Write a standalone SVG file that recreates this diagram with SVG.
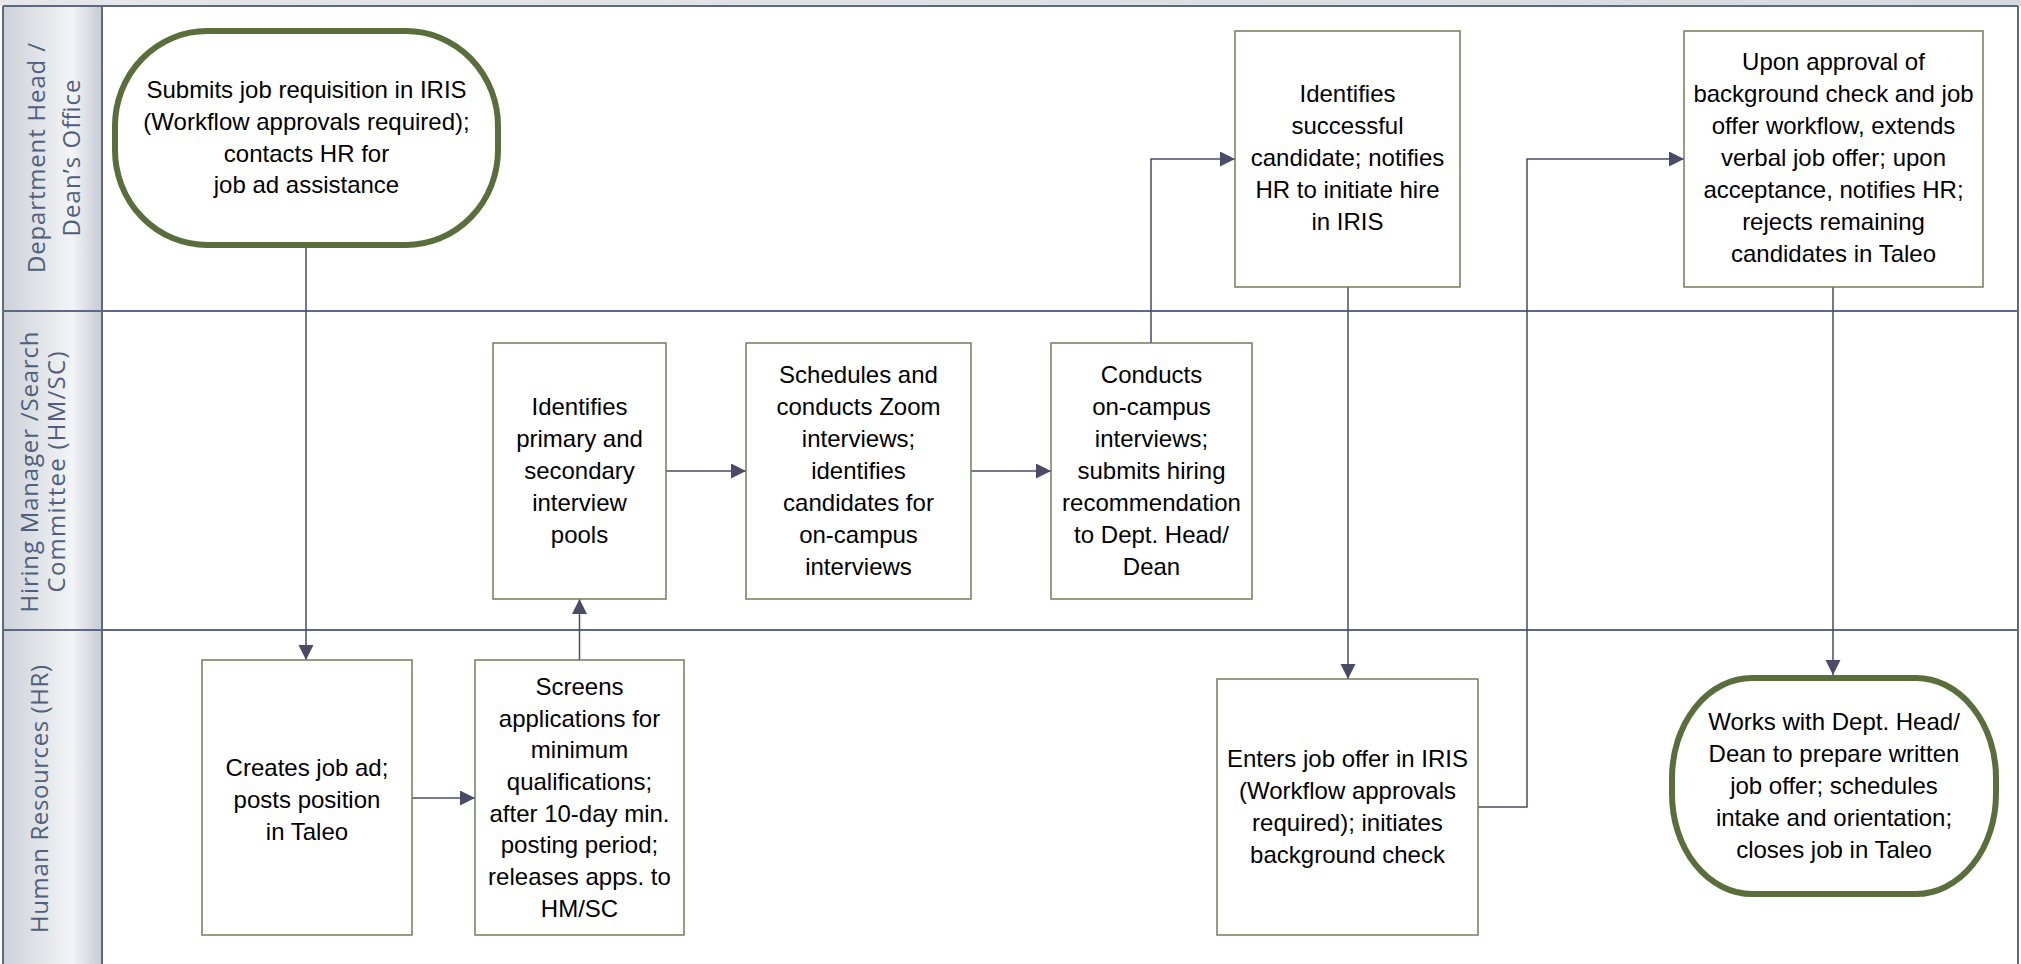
<svg xmlns="http://www.w3.org/2000/svg" width="2021" height="964" viewBox="0 0 2021 964">
<defs>
<linearGradient id="hdr" x1="0" y1="0" x2="1" y2="0">
<stop offset="0" stop-color="#cdd1d8"/>
<stop offset="0.7" stop-color="#f3f4f6"/>
<stop offset="1" stop-color="#c6cad2"/>
</linearGradient>
<linearGradient id="top" x1="0" y1="0" x2="1" y2="0">
<stop offset="0" stop-color="#e4e6ea"/>
<stop offset="1" stop-color="#d6dae0"/>
</linearGradient>
<marker id="arr" markerUnits="userSpaceOnUse" markerWidth="16" markerHeight="16" refX="15" refY="7.5" orient="auto">
<path d="M0,0 L15,7.5 L0,15 z" fill="#4b4a67"/>
</marker>
</defs>
<style>
.lane{fill:none;stroke:#5b6a84;stroke-width:2}
.lbl{font-family:"Open Sans","DejaVu Sans",sans-serif;font-size:24px;fill:#4f5f7d}
.box{fill:#fff;stroke:#6f7f55;stroke-width:1.5}
.term{fill:#fff;stroke:#5a6e3c;stroke-width:6}
.t{font-family:"Liberation Sans",Arial,sans-serif;font-size:24px;fill:#000;text-anchor:middle}
.c{fill:none;stroke:#4b4a67;stroke-width:1.5;marker-end:url(#arr)}
</style>
<rect x="0" y="0" width="2021" height="964" fill="#fff"/>
<g id="pool">
<rect x="0" y="0" width="2021" height="6" fill="url(#top)"/>
<rect x="3" y="6" width="99" height="958" fill="url(#hdr)"/>
<line class="lane" x1="3" y1="6" x2="2018" y2="6"/>
<line class="lane" x1="3" y1="311" x2="2018" y2="311"/>
<line class="lane" x1="3" y1="630" x2="2018" y2="630"/>
<line class="lane" x1="3" y1="6" x2="3" y2="964"/>
<line class="lane" x1="102" y1="6" x2="102" y2="964"/>
<line class="lane" x1="2018" y1="6" x2="2018" y2="964"/>
</g>
<g id="lane-dept">
<text class="lbl" transform="translate(45,158) rotate(-90)" text-anchor="middle" font-size="25" textLength="230">Department Head /</text>
<text class="lbl" transform="translate(80,158) rotate(-90)" text-anchor="middle" font-size="25" textLength="157">Dean’s Office</text>
</g>
<g id="lane-hm">
<text class="lbl" transform="translate(38,472) rotate(-90)" text-anchor="middle" textLength="281">Hiring Manager /Search</text>
<text class="lbl" transform="translate(65,472) rotate(-90)" text-anchor="middle" textLength="241">Committee (HM/SC)</text>
</g>
<g id="lane-hr">
<text class="lbl" transform="translate(48,799) rotate(-90)" text-anchor="middle" textLength="268">Human Resources (HR)</text>
</g>
<g id="connectors">
<path class="c" d="M306,248 V660"/>
<path class="c" d="M412,798 H475"/>
<path class="c" d="M579.5,660 V599"/>
<path class="c" d="M666,471 H746"/>
<path class="c" d="M971,471 H1051"/>
<path class="c" d="M1151,343 V159 H1235"/>
<path class="c" d="M1348,287 V679"/>
<path class="c" d="M1478,807 H1527 V159 H1684"/>
<path class="c" d="M1833,287 V675"/>
</g>
<g id="n-start">
<rect class="term" x="115" y="31" width="383" height="214" rx="92" ry="95"/>
<text class="t"><tspan x="306.5" y="98">Submits job requisition in IRIS</tspan><tspan x="306.5" y="130">(Workflow approvals required);</tspan><tspan x="306.5" y="162">contacts HR for</tspan><tspan x="306.5" y="193">job ad assistance</tspan></text>
</g>
<g id="n-create">
<rect class="box" x="202" y="660" width="210" height="275"/>
<text class="t"><tspan x="307" y="776">Creates job ad;</tspan><tspan x="307" y="808">posts position</tspan><tspan x="307" y="840">in Taleo</tspan></text>
</g>
<g id="n-screen">
<rect class="box" x="475" y="660" width="209" height="275"/>
<text class="t"><tspan x="579.5" y="695">Screens</tspan><tspan x="579.5" y="727">applications for</tspan><tspan x="579.5" y="758">minimum</tspan><tspan x="579.5" y="790">qualifications;</tspan><tspan x="579.5" y="822">after 10-day min.</tspan><tspan x="579.5" y="853">posting period;</tspan><tspan x="579.5" y="885">releases apps. to</tspan><tspan x="579.5" y="917">HM/SC</tspan></text>
</g>
<g id="n-pools">
<rect class="box" x="493" y="343" width="173" height="256"/>
<text class="t"><tspan x="579.5" y="415">Identifies</tspan><tspan x="579.5" y="447">primary and</tspan><tspan x="579.5" y="479">secondary</tspan><tspan x="579.5" y="511">interview</tspan><tspan x="579.5" y="543">pools</tspan></text>
</g>
<g id="n-zoom">
<rect class="box" x="746" y="343" width="225" height="256"/>
<text class="t"><tspan x="858.5" y="383">Schedules and</tspan><tspan x="858.5" y="415">conducts Zoom</tspan><tspan x="858.5" y="447">interviews;</tspan><tspan x="858.5" y="479">identifies</tspan><tspan x="858.5" y="511">candidates for</tspan><tspan x="858.5" y="543">on-campus</tspan><tspan x="858.5" y="575">interviews</tspan></text>
</g>
<g id="n-oncampus">
<rect class="box" x="1051" y="343" width="201" height="256"/>
<text class="t"><tspan x="1151.5" y="383">Conducts</tspan><tspan x="1151.5" y="415">on-campus</tspan><tspan x="1151.5" y="447">interviews;</tspan><tspan x="1151.5" y="479">submits hiring</tspan><tspan x="1151.5" y="511">recommendation</tspan><tspan x="1151.5" y="543">to Dept. Head/</tspan><tspan x="1151.5" y="575">Dean</tspan></text>
</g>
<g id="n-success">
<rect class="box" x="1235" y="31" width="225" height="256"/>
<text class="t"><tspan x="1347.5" y="102">Identifies</tspan><tspan x="1347.5" y="134">successful</tspan><tspan x="1347.5" y="166">candidate; notifies</tspan><tspan x="1347.5" y="198">HR to initiate hire</tspan><tspan x="1347.5" y="230">in IRIS</tspan></text>
</g>
<g id="n-offer">
<rect class="box" x="1217" y="679" width="261" height="256"/>
<text class="t"><tspan x="1347.5" y="767">Enters job offer in IRIS</tspan><tspan x="1347.5" y="799">(Workflow approvals</tspan><tspan x="1347.5" y="831">required); initiates</tspan><tspan x="1347.5" y="863">background check</tspan></text>
</g>
<g id="n-verbal">
<rect class="box" x="1684" y="31" width="299" height="256"/>
<text class="t"><tspan x="1833.5" y="70">Upon approval of</tspan><tspan x="1833.5" y="102">background check and job</tspan><tspan x="1833.5" y="134">offer workflow, extends</tspan><tspan x="1833.5" y="166">verbal job offer; upon</tspan><tspan x="1833.5" y="198">acceptance, notifies HR;</tspan><tspan x="1833.5" y="230">rejects remaining</tspan><tspan x="1833.5" y="262">candidates in Taleo</tspan></text>
</g>
<g id="n-end">
<rect class="term" x="1672" y="678" width="324" height="216" rx="80" ry="100"/>
<text class="t"><tspan x="1834" y="730">Works with Dept. Head/</tspan><tspan x="1834" y="762">Dean to prepare written</tspan><tspan x="1834" y="794">job offer; schedules</tspan><tspan x="1834" y="826">intake and orientation;</tspan><tspan x="1834" y="858">closes job in Taleo</tspan></text>
</g>
</svg>
